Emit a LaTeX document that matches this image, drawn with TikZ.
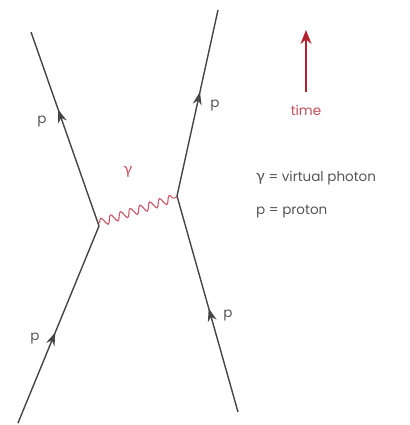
\documentclass[tikz,border=0pt]{standalone}
\usepackage{fontspec}
\setmainfont{Poppins}
\newfontfamily\greekfont{Lato}
\usetikzlibrary{arrows.meta,decorations.markings,decorations.pathmorphing}
\definecolor{linegray}{HTML}{454545}
\definecolor{textgray}{HTML}{555555}
\definecolor{photonred}{HTML}{CC5566}
\definecolor{timered}{HTML}{B3202E}
\tikzset{
  fermion/.style={draw=linegray, line width=1.4pt, postaction={decorate},
    decoration={markings, mark=at position #1 with {\arrow{Stealth[length=13pt,width=9pt]}}}},
  photon/.style={draw=photonred, line width=1.1pt,
    decoration={snake, segment length=10.3pt, amplitude=4pt}, decorate},
  lbl/.style={text=textgray, font=\fontsize{13.5}{16}\selectfont, inner sep=0pt},
}
\begin{document}
\begin{tikzpicture}[x=1pt,y=-1pt]
\useasboundingbox (0,0) rectangle (409,425);
\coordinate (vl) at (99,226);
\coordinate (vr) at (177,196);
\coordinate (tl) at (31,32);
\coordinate (tr) at (218,10);
\coordinate (bl) at (18,423);
\coordinate (br) at (238,412);
\coordinate (ws) at (99,223);
\coordinate (we) at (177,197);
\draw[fermion=0.6] (vl) -- (tl);
\draw[fermion=0.56] (vr) -- (tr);
\draw[fermion=0.46] (bl) -- (vl);
\draw[fermion=0.48] (br) -- (vr);
\draw[photon] (ws) -- (we);
\node[lbl] (p1) at (42,121) {p};
\node[lbl] (p2) at (215,105) {p};
\node[lbl] (p3) at (35,338) {p};
\node[lbl] (p4) at (228,315) {p};
\node[lbl, text=photonred, font=\fontsize{16}{18}\selectfont] (g) at (128,172) {\greekfont γ};
\coordinate (ttip) at (306,30);
\coordinate (ttail) at (306,92);
\draw[draw=timered, line width=1.3pt, -{Stealth[length=14pt,width=11pt]}] (ttail) -- (ttip);
\node[lbl, text=timered!80!white] (time) at (306,110) {time};
\node[lbl, anchor=west] (leg1) at (256,178) {{\greekfont\fontsize{16}{18}\selectfont γ} = virtual photon};
\node[lbl, anchor=west] (leg2) at (256,212) {p = proton};
\end{tikzpicture}
\end{document}
